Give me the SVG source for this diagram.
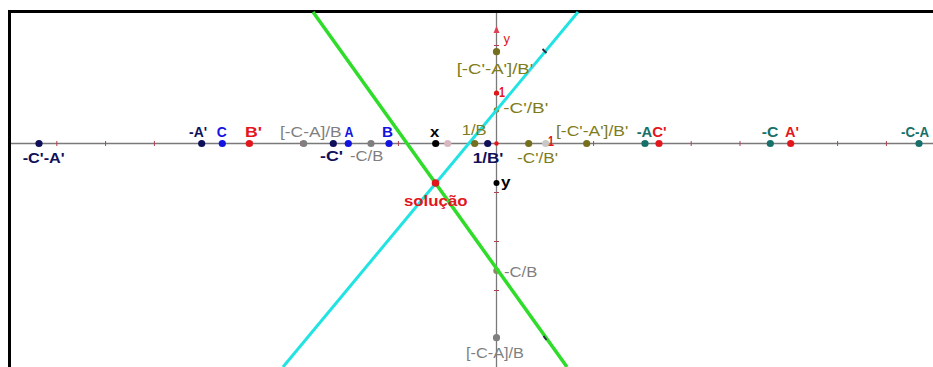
<svg xmlns="http://www.w3.org/2000/svg" width="933" height="367" viewBox="0 0 933 367">
<style>
text{font-family:"Liberation Sans",Arial,sans-serif;font-size:15px}
.b{font-weight:bold}
.navy{fill:#10105a}.blue{fill:#1414e0}.red{fill:#e3161e}.gray{fill:#7f7f7f}.olive{fill:#807c1c}.teal{fill:#17706a}.blk{fill:#000}
.axis{stroke:#7a7a7a;stroke-width:1.3;fill:none}
.tick{stroke:#b04050;stroke-width:1}
</style>
<rect width="933" height="367" fill="#fff"/>
<g id="frame" stroke="#000" stroke-width="3" fill="none">
<line x1="8" y1="11.5" x2="933" y2="11.5"/>
<line x1="9.5" y1="10" x2="9.5" y2="367"/>
</g>
<g id="axes">
<line class="axis" x1="11" y1="143.5" x2="933" y2="143.5"/>
<line class="axis" x1="496.5" y1="13" x2="496.5" y2="367"/>
<path d="M496.5 26 L493.5 33 L499.5 33 Z" fill="#e04050"/>
<g class="tick">
<path d="M56.8 141v5M105.6 141v5M154.4 141v5M203.2 141v5M252 141v5M300.8 141v5M349.6 141v5M398.4 141v5M447.2 141v5M544.8 141v5M593.6 141v5M642.4 141v5M691.2 141v5M740 141v5M788.8 141v5M837.6 141v5M886.4 141v5"/>
<path d="M494 45.5h5M494 94.5h5M494 192.5h5M494 241.5h5M494 290.5h5M494 339.5h5"/>
</g>
</g>
<g id="under-points">
<circle cx="496.5" cy="110" r="2.8" fill="#807c1c"/>
<circle cx="496.5" cy="270.7" r="3.2" fill="#8a8a60"/>
</g>
<g id="lines" stroke-linecap="butt">
<line id="green" x1="313" y1="12" x2="567" y2="367" stroke="#2fdc2a" stroke-width="3.5"/>
<line id="cyan" x1="578" y1="12" x2="283" y2="367" stroke="#22e3e3" stroke-width="3"/>
<path d="M542.5 49 l4 4 M543.5 336 l3 4" stroke="#203040" stroke-width="2"/>
</g>
<g id="points">
<circle cx="39" cy="143.5" r="3.6" fill="#10105a"/>
<circle cx="201.7" cy="143.5" r="3.6" fill="#10105a"/>
<circle cx="222.3" cy="143.5" r="3.6" fill="#1414e0"/>
<circle cx="249.3" cy="143.5" r="3.6" fill="#e3161e"/>
<circle cx="303.7" cy="143.5" r="3.6" fill="#7f7f7f"/>
<circle cx="333.3" cy="143.5" r="3.6" fill="#10105a"/>
<circle cx="348.3" cy="143.5" r="3.6" fill="#1414e0"/>
<circle cx="371" cy="143.5" r="3.6" fill="#7f7f7f"/>
<circle cx="389" cy="143.5" r="3.6" fill="#1414e0"/>
<circle cx="435.7" cy="143.5" r="3.6" fill="#000"/>
<circle cx="447.7" cy="143.5" r="3.6" fill="#d8b8c0"/>
<circle cx="474.7" cy="143.5" r="3.6" fill="#746f1c"/>
<circle cx="487.7" cy="143.5" r="3.6" fill="#10105a"/>
<circle cx="496.5" cy="143.5" r="2.2" fill="#e3161e"/>
<circle cx="528.7" cy="143.5" r="3.6" fill="#746f1c"/>
<circle cx="545.7" cy="143.5" r="3.6" fill="#c8c8c8"/>
<circle cx="586.7" cy="143.5" r="3.6" fill="#746f1c"/>
<circle cx="645" cy="143.5" r="3.6" fill="#17706a"/>
<circle cx="659" cy="143.5" r="3.6" fill="#e3161e"/>
<circle cx="770.3" cy="143.5" r="3.6" fill="#17706a"/>
<circle cx="790.7" cy="143.5" r="3.6" fill="#e3161e"/>
<circle cx="919" cy="143.5" r="3.6" fill="#17706a"/>
<circle cx="496.5" cy="51.7" r="3.6" fill="#746f1c"/>
<circle cx="496.5" cy="93" r="2.6" fill="#e3161e"/>
<circle cx="496.5" cy="183" r="3" fill="#000"/>
<circle cx="496.5" cy="337.7" r="3.6" fill="#7f7f7f"/>
<circle cx="435.5" cy="183" r="3.8" fill="#e3161e"/>
</g>
<g id="labels">
<text class="b navy" x="22.7" y="163" textLength="42" lengthAdjust="spacingAndGlyphs">-C'-A'</text>
<text class="b navy" x="189" y="137" textLength="18" lengthAdjust="spacingAndGlyphs">-A'</text>
<text class="b navy" x="320" y="161" textLength="23" lengthAdjust="spacingAndGlyphs">-C'</text>
<text class="b navy" x="472.7" y="163" textLength="30.6" lengthAdjust="spacingAndGlyphs">1/B'</text>
<text class="b blue" x="216.7" y="137" textLength="10" lengthAdjust="spacingAndGlyphs">C</text>
<text class="b blue" x="344.5" y="137" textLength="9" lengthAdjust="spacingAndGlyphs">A</text>
<text class="b blue" x="382" y="137" textLength="11" lengthAdjust="spacingAndGlyphs">B</text>
<text class="b red" x="245" y="137" textLength="17" lengthAdjust="spacingAndGlyphs">B'</text>
<text class="b red" x="652.3" y="137" textLength="14.4" lengthAdjust="spacingAndGlyphs">C'</text>
<text class="b red" x="785" y="137" textLength="14" lengthAdjust="spacingAndGlyphs">A'</text>
<text class="b red" x="548" y="145.5" textLength="6" lengthAdjust="spacingAndGlyphs">1</text>
<text class="b red" x="499" y="96.5" textLength="6" lengthAdjust="spacingAndGlyphs">1</text>
<text class="red" x="503.5" y="43" style="font-size:13px">y</text>
<text class="b red" x="404" y="206" textLength="63.5" lengthAdjust="spacingAndGlyphs">solução</text>
<text class="gray" x="280" y="137" textLength="61.7" lengthAdjust="spacingAndGlyphs">[-C-A]/B</text>
<text class="gray" x="350" y="161" textLength="33.3" lengthAdjust="spacingAndGlyphs">-C/B</text>
<text class="gray" x="504" y="276.5" textLength="33.3" lengthAdjust="spacingAndGlyphs">-C/B</text>
<text class="gray" x="466" y="358" textLength="58" lengthAdjust="spacingAndGlyphs">[-C-A]/B</text>
<text class="b blk" x="430" y="137" textLength="9.3" lengthAdjust="spacingAndGlyphs">x</text>
<text class="b blk" x="501" y="187" textLength="9.5" lengthAdjust="spacingAndGlyphs">y</text>
<text class="olive" x="461.7" y="135" textLength="25" lengthAdjust="spacingAndGlyphs">1/B</text>
<text class="olive" x="517" y="163" textLength="41" lengthAdjust="spacingAndGlyphs">-C'/B'</text>
<text class="olive" x="556" y="136" textLength="72.3" lengthAdjust="spacingAndGlyphs">[-C'-A']/B'</text>
<text class="olive" x="456.7" y="74" textLength="76.6" lengthAdjust="spacingAndGlyphs">[-C'-A']/B'</text>
<text class="olive" x="503.3" y="113" textLength="45" lengthAdjust="spacingAndGlyphs">-C'/B'</text>
<text class="b teal" x="636.7" y="137" textLength="15.6" lengthAdjust="spacingAndGlyphs">-A</text>
<text class="b teal" x="761.7" y="137" textLength="16.6" lengthAdjust="spacingAndGlyphs">-C</text>
<text class="b teal" x="901" y="137" textLength="28" lengthAdjust="spacingAndGlyphs">-C-A</text>
</g>
</svg>
